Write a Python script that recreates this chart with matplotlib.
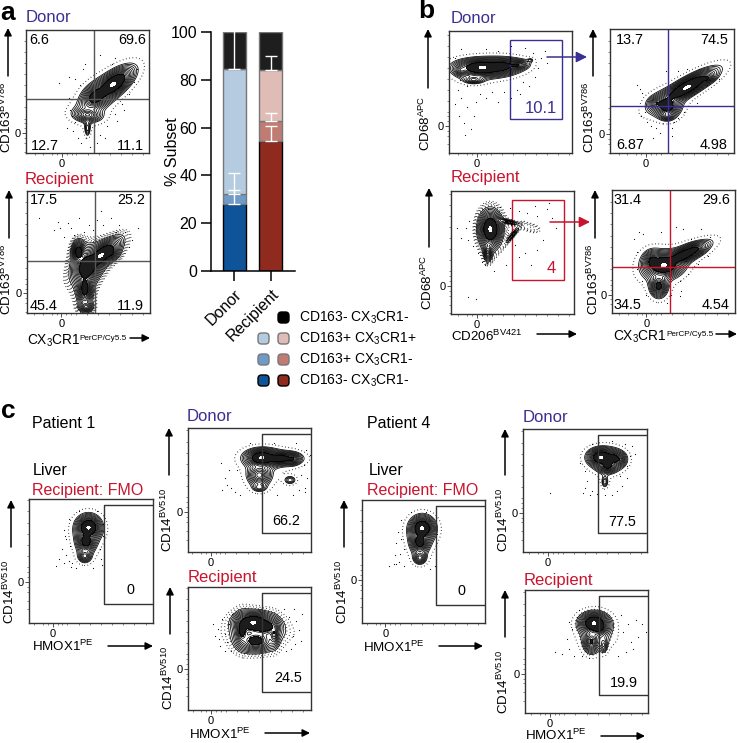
import numpy as np
import matplotlib
matplotlib.use("Agg")
import matplotlib.pyplot as plt
from matplotlib.patches import FancyBboxPatch, FancyArrowPatch, Rectangle

plt.rcParams['font.family'] = ['Liberation Sans', 'DejaVu Sans']
plt.rcParams['mathtext.default'] = 'regular'

BLUE = '#3a2f92'
RED = '#c8142d'
GREY = '#555555'

# stacked bars (bottom segment first)
groups = ['Donor', 'Recipient']
donor_pct = [27.9, 4.2, 52.4, 15.5]
recipient_pct = [54.4, 8.4, 21.4, 15.8]
donor_err = [5.9, 8.9, 17.0, 0]
recipient_err = [6.4, 3.2, 5.6, 2.0]
donor_colors = ['#0f5499', '#6f9bc8', '#b4cbe0', '#1e1e1e']
recipient_colors = ['#8f2a1e', '#c07b72', '#e0bcb7', '#1e1e1e']
legend_labels = ['CD163- CX$_3$CR1-', 'CD163+ CX$_3$CR1-', 'CD163+ CX$_3$CR1+', 'CD163- CX$_3$CR1-']

# density blobs per flow plot: x, y, sigma long, sigma short, angle, weight (percent of the plot frame)
a_donor_blobs = [(71, 56, 6, 2.6, 38, 1), (57, 46, 5.5, 3.6, 40, .3), (50, 31, 3, 6, 85, .1), (50, 20, 4.5, 1.6, 90, .035)]
a_recip_blobs = [(60, 47, 6, 2.2, 40, 1), (49, 38, 4.5, 3.2, 70, .8), (47, 20, 6, 2.6, 90, .25), (48, 5, 3, 2.2, 0, .08),
                 (42, 50, 3.5, 2, 90, .35), (66, 50, 3, 2.2, 0, .3)]
b_d1_blobs = [(27, 70, 6.5, 2.2, 0, 1), (42, 71, 5, 2.1, 4, .45), (55, 72, 4.5, 1.9, 5, .12), (10, 68, 3, 2.5, 0, .07),
              (20, 60, 5, 2, 0, .05), (66, 76, 2, 1.2, 10, .015)]
b_d2_blobs = [(62, 53, 8, 2.1, 30, 1), (46, 38, 4, 3.4, 0, .35), (38, 40, 3.5, 2.6, 0, .08), (78, 60, 3.2, 1.6, 20, .1),
              (46, 30, 3, 2, 0, .06)]
b_r1_blobs = [(32, 69, 4.5, 2.8, 90, 1), (30, 50, 4, 1.8, 90, .08), (46, 75, 6, 1, -12, .035), (50, 64, 5.5, 1, 50, .03),
              (65, 70, 9, 4, -15, .0095)]
b_r2_blobs = [(42, 39, 4.5, 3, 0, 1), (58, 47, 8, 2.2, 25, .5), (38, 22, 4.2, 3.2, 90, .2), (68, 52, 3, 1.8, 0, .08),
              (33, 42, 3, 3.5, 0, .2)]
c_p1_fmo_blobs = [(48, 77, 3, 3, 0, 1), (46, 66, 3.6, 3, 90, .3), (45, 54, 3, 3, 0, .07)]
c_p1_don_blobs = [(60, 76, 4, 2.1, 0, 1), (74, 75.5, 6, 1.9, 0, .4), (85, 75, 3, 2.2, 0, .1), (58, 62, 5, 4.4, 0, .12),
                  (83, 58, 3.5, 2.5, 0, .03), (58, 52, 4, 2.4, 0, .03)]
c_p1_rec_blobs = [(53, 71, 4.5, 2.6, 0, 1), (62, 68, 4.5, 2.6, 0, .4), (55, 56, 6.5, 4, 0, .22), (44, 65, 5, 2.2, 90, .22),
                  (70, 62, 5, 1.8, 90, .1), (60, 62, 20, 5, 0, .008)]
c_p4_fmo_blobs = [(49, 77, 3, 3, 0, 1), (47, 66, 3.6, 3, 90, .3), (47, 53, 3, 3, 0, .07)]
c_p4_don_blobs = [(63, 77, 3.2, 2.2, 0, 1), (72, 76, 3.6, 2.6, 0, .3), (78, 75, 2.5, 2.6, 0, .07), (66, 57, 3.5, 2, 90, .03),
                  (68, 70, 3.6, 2.6, 0, .18)]
c_p4_rec_blobs = [(56, 73, 3.5, 2.6, 0, 1), (60, 70, 3, 2.6, 0, .3), (54, 58, 4.6, 3.2, 90, .14), (64, 55, 4, 2, 90, .035),
                  (62, 60, 13, 7, 0, .0075)]

# stray events
a_donor_dots = [(40, 60), (35, 62), (46, 68), (48, 72), (55, 78), (60, 80), (72, 77), (88, 58), (90, 68), (84, 48), (78, 40),
                (72, 32), (66, 22), (60, 15), (40, 25), (38, 18), (42, 12), (45, 8), (27, 57), (52, 5), (58, 8), (64, 12),
                (36, 35), (70, 72), (44, 55), (35, 45), (37, 30), (33, 20), (74, 26), (80, 35)]
a_recip_dots = [(10, 78), (25, 75), (27, 70), (33, 74), (36, 70), (42, 78), (50, 72), (57, 76), (62, 72), (68, 78), (75, 72),
                (80, 66), (85, 60), (30, 62), (22, 68), (90, 70), (60, 84), (46, 66), (72, 66), (54, 68), (38, 64), (83, 54)]
b_d1_dots = [(5, 40), (8, 30), (12, 25), (10, 45), (15, 38), (20, 30), (7, 52), (25, 48), (30, 45), (35, 50), (40, 42), (50, 45),
             (55, 52), (60, 58), (65, 55), (70, 62), (72, 70), (75, 78), (62, 86), (50, 88), (40, 84), (30, 85), (68, 82),
             (78, 84), (80, 74), (5, 78), (10, 85), (18, 20), (15, 55), (22, 42), (45, 50), (58, 48), (13, 15), (9, 60)]
b_d2_dots = [(22, 55), (24, 52), (26, 48), (25, 30), (30, 25), (33, 22), (37, 20), (40, 16), (50, 20), (52, 25), (55, 28),
             (50, 14), (35, 12), (28, 33), (45, 66), (55, 66), (62, 68), (72, 68), (78, 55), (70, 40), (60, 33), (88, 60)]
b_r1_dots = [(15, 76), (12, 70), (14, 60), (18, 55), (22, 50), (25, 42), (28, 40), (5, 70), (8, 62), (30, 85), (40, 87), (48, 86),
             (55, 84), (62, 82), (70, 80), (78, 85), (82, 78), (85, 70), (60, 50), (55, 46), (70, 52), (75, 60), (14, 14),
             (20, 12), (65, 40), (45, 40), (52, 56), (80, 90), (68, 88), (35, 35)]
b_r2_dots = [(18, 60), (20, 50), (22, 66), (25, 64), (40, 66), (52, 70), (58, 68), (64, 60), (72, 68), (80, 62), (78, 46), (70, 40),
             (62, 32), (55, 26), (48, 15), (55, 14), (45, 8), (24, 26), (28, 15), (20, 36), (56, 18), (60, 42)]
c_p1_fmo_dots = [(28, 75), (29, 70), (27, 60), (30, 55), (32, 50), (28, 48), (34, 45), (22, 46), (30, 68), (38, 44), (52, 44),
                 (58, 52), (57, 60), (60, 70), (60, 80), (32, 84), (40, 90), (55, 90), (33, 62), (24, 52), (59, 47), (35, 48)]
c_p1_don_dots = [(27, 72), (28, 50), (30, 60), (33, 66), (35, 52), (38, 48), (42, 46), (85, 46), (90, 50), (95, 52), (97, 60),
                 (94, 70), (96, 82), (95, 48), (88, 88), (70, 88), (50, 88), (72, 46), (40, 66), (99, 78), (92, 62), (32, 54)]
c_p1_rec_dots = [(20, 70), (22, 60), (24, 66), (26, 52), (28, 74), (30, 62), (32, 55), (33, 70), (35, 48), (36, 78), (25, 58),
                 (82, 76), (85, 60), (88, 72), (90, 65), (84, 50), (87, 54), (80, 48), (92, 56), (93, 78), (78, 82), (86, 82), (30, 48)]
c_p4_fmo_dots = [(29, 74), (28, 65), (27, 55), (30, 50), (26, 48), (22, 46), (32, 68), (34, 46), (55, 44), (60, 52), (60, 62),
                 (61, 72), (60, 82), (32, 84), (40, 90), (52, 90), (34, 60), (28, 48), (31, 56), (59, 46)]
c_p4_don_dots = [(22, 48), (48, 48), (50, 52), (52, 58), (54, 46), (56, 50), (60, 47), (66, 46), (72, 46), (76, 50), (80, 54), (84, 60),
                 (84, 70), (86, 78), (88, 86), (82, 88), (72, 90), (56, 88), (46, 72), (50, 66), (78, 62), (90, 80)]
c_p4_rec_dots = [(24, 50), (30, 48), (34, 60), (36, 52), (38, 68), (40, 46), (42, 78), (44, 84), (78, 80), (80, 66), (84, 72), (86, 58),
                 (90, 76), (95, 72), (88, 52), (82, 50), (76, 46), (92, 62), (46, 46), (36, 74), (98, 66)]

# tick positions relative to the zero tick
tick_offsets = [-22, -15, -8, -4, 4, 8, 12, 21, 30, 39, 48, 57, 66, 75]

W, H = 737, 743
fig = plt.figure(figsize=(W / 100, H / 100), dpi=100)

xx, yy = np.meshgrid(np.linspace(0, 100, 320), np.linspace(0, 100, 320))


def density(blobs):
    z = np.zeros_like(xx)
    for x0, y0, s1, s2, ang, w in blobs:
        t = np.deg2rad(ang)
        u = (xx - x0) * np.cos(t) + (yy - y0) * np.sin(t)
        v = -(xx - x0) * np.sin(t) + (yy - y0) * np.cos(t)
        # heavy tails, so the outer rings open up the way flow contours do
        z += w * (1 + 0.5 * (u**2 / s1**2 + v**2 / s2**2)) ** -2
    return z / z.max()


def flow_panel(left, top, right, bottom, blobs, dots, x0, y0, halo=2):
    ax = fig.add_axes([left / W, 1 - bottom / H, (right - left) / W, (bottom - top) / H])
    z = density(blobs)
    floor = 0.012
    # dotted low levels stand in for the crowd of events round the outer contour
    if halo:
        ax.contour(xx, yy, z, levels=floor * np.geomspace(0.45, 0.88, halo), colors='k',
                   linewidths=0.8, linestyles=[(0, (0.6, 2.4))])
    ax.contourf(xx, yy, z, levels=[0.13, 0.85], colors=['#1c1c1c'])
    ax.contourf(xx, yy, z, levels=[0.85, 2], colors=['white'])
    ax.contour(xx, yy, z, levels=np.geomspace(floor, 0.13, 11), colors='k', linewidths=0.55)
    ax.scatter(*zip(*dots), s=0.7, c='k', linewidths=0)
    ax.set_xlim(0, 100)
    ax.set_ylim(0, 100)
    ax.set_xticks([x0], ['0'])
    ax.set_yticks([y0], ['0'])
    ax.set_xticks([x0 + d for d in tick_offsets if 0 < x0 + d < 100], minor=True)
    ax.set_yticks([y0 + d for d in tick_offsets if 0 < y0 + d < 100], minor=True)
    ax.tick_params(which='major', length=3, width=0.6, labelsize=8, pad=1, color='#333333')
    ax.tick_params(which='minor', length=1.5, width=0.5, color='#555555')
    for s in ax.spines.values():
        s.set_linewidth(1.0)
        s.set_color('#333333')
    return ax


def quadrant(ax, x, y, color):
    ax.axvline(x, color=color, lw=1.0)
    ax.axhline(y, color=color, lw=1.0)


def gate_box(ax, x1, x2, y1, y2, color):
    ax.add_patch(Rectangle((x1, y1), x2 - x1, y2 - y1, fill=False, ec=color, lw=1.0))


def open_gate(ax, x1, y1, y2):
    ax.plot([99, x1, x1, 99], [y2, y2, y1, y1], color='#333333', lw=1.0)


# panel a
ax = flow_panel(26, 30, 149, 153, a_donor_blobs, a_donor_dots, 29, 16, halo=1)
quadrant(ax, 55, 44, GREY)
ax = flow_panel(27, 191, 150, 313, a_recip_blobs, a_recip_dots, 28, 16, halo=5)
quadrant(ax, 55, 43, GREY)

# panel b
ax = flow_panel(449, 31, 572, 153, b_d1_blobs, b_d1_dots, 22.4, 22, halo=1)
gate_box(ax, 49.5, 92, 28, 92.7, BLUE)
ax = flow_panel(610, 29, 734, 153, b_d2_blobs, b_d2_dots, 29, 15.3, halo=1)
quadrant(ax, 47, 37.6, BLUE)
ax = flow_panel(451, 191, 574, 314, b_r1_blobs, b_r1_dots, 21, 22.7, halo=5)
gate_box(ax, 49.5, 92, 28, 93, RED)
ax = flow_panel(612, 190, 735, 313, b_r2_blobs, b_r2_dots, 28, 15, halo=1)
quadrant(ax, 46.8, 37.3, RED)

# panel c
ax = flow_panel(29, 499, 153, 623, c_p1_fmo_blobs, c_p1_fmo_dots, 19, 33, halo=1)
open_gate(ax, 60.5, 15, 95.4)
ax = flow_panel(188, 428, 311, 552, c_p1_don_blobs, c_p1_don_dots, 18.4, 32, halo=1)
open_gate(ax, 60.5, 15, 95)
ax = flow_panel(188, 587, 311, 710, c_p1_rec_blobs, c_p1_rec_dots, 18.7, 33.5, halo=3)
open_gate(ax, 60.3, 15, 95)
ax = flow_panel(362, 500, 485, 623, c_p4_fmo_blobs, c_p4_fmo_dots, 19, 35, halo=1)
open_gate(ax, 60.5, 14.6, 95)
ax = flow_panel(523, 429, 647, 552, c_p4_don_blobs, c_p4_don_dots, 20, 32, halo=1)
open_gate(ax, 60.5, 15.3, 95)
ax = flow_panel(525, 590, 648, 713, c_p4_rec_blobs, c_p4_rec_dots, 20, 32, halo=2)
open_gate(ax, 60.4, 14.8, 95)

# stacked bars
ax = fig.add_axes([211 / W, 1 - 271 / H, 84 / W, 239 / H])
for i, (vals, errs, cols) in enumerate(zip([donor_pct, recipient_pct], [donor_err, recipient_err],
                                           [donor_colors, recipient_colors])):
    bottom = 0
    for j, (v, e, c) in enumerate(zip(vals, errs, cols)):
        ax.bar(i, v, 0.63, bottom=bottom, color=c, edgecolor='k' if j == 0 else '#777777', linewidth=1.0)
        bottom += v
    bottom = 0
    for j, (v, e, c) in enumerate(zip(vals, errs, cols)):
        bottom += v
        if e > 0 and bottom < 99:
            ax.errorbar(i, bottom, yerr=[[0], [e]], color='white', capsize=4.5, lw=1.0, capthick=1.0, zorder=5)
ax.set_xlim(-0.644, 1.658)
ax.set_ylim(0, 100)
ax.set_xticks([0, 1])
ax.set_xticklabels(groups, rotation=45, ha='right', rotation_mode='anchor', fontsize=11.5)
ax.set_yticks(range(0, 101, 20))
ax.tick_params(axis='y', length=7, width=1.1, labelsize=11.5, pad=3)
ax.tick_params(axis='x', length=7, width=1.1, pad=4)
ax.set_ylabel('% Subset', fontsize=11.5, labelpad=-6.5)
for s in ['top', 'right']:
    ax.spines[s].set_visible(False)
for s in ['left', 'bottom']:
    ax.spines[s].set_linewidth(1.1)

# everything else sits on an overlay in pixel coordinates
ov = fig.add_axes([0, 0, 1, 1], zorder=10)
ov.set_xlim(0, W)
ov.set_ylim(H, 0)
ov.axis('off')


def put(x, y, s, size=12, color='k', ha='left', weight='normal'):
    ov.text(x, y, s, fontsize=size, color=color, ha=ha, va='baseline', weight=weight)


def put_v(x, y, s, size=9.6):
    ov.text(x, y, s, fontsize=size, rotation=90, rotation_mode='anchor', ha='left', va='baseline')


def arrow(x1, y1, x2, y2, color='k', head=11, lw=1.1):
    ov.add_patch(FancyArrowPatch((x1, y1), (x2, y2), arrowstyle='-|>', mutation_scale=head, color=color,
                                 lw=lw, shrinkA=0, shrinkB=0))


for x, y, s in [(0, 20, 'a'), (418, 18, 'b'), (1, 418, 'c')]:
    put(x, y, s, size=19, weight='bold')

for x, y in [(26, 22), (451, 23), (187, 421), (523, 422)]:
    put(x, y, 'Donor', color=BLUE)
for x, y in [(25, 184), (451, 182), (188, 582), (524, 585)]:
    put(x, y, 'Recipient', color=RED)
for x, y in [(32, 495), (367, 495)]:
    put(x, y, 'Recipient: FMO', color=RED, size=11.5)
put(32, 428, 'Patient 1', size=11.5)
put(367, 428, 'Patient 4', size=11.5)
put(33, 475, 'Liver', size=11.5)
put(369, 475, 'Liver', size=11.5)

# quadrant numbers
for x, y, s, ha in [(29, 44, '6.6', 'left'), (146, 44, '69.6', 'right'), (31, 150, '12.7', 'left'), (144, 150, '11.1', 'right'),
                    (30, 204, '17.5', 'left'), (145, 204, '25.2', 'right'), (30, 310, '45.4', 'left'), (144, 310, '11.9', 'right'),
                    (616, 44, '13.7', 'left'), (728, 44, '74.5', 'right'), (616, 149, '6.87', 'left'), (728, 149, '4.98', 'right'),
                    (614, 204, '31.4', 'left'), (730, 204, '29.6', 'right'), (614, 309, '34.5', 'left'), (730, 309, '4.54', 'right'),
                    (130, 594, '0', 'center'), (286, 525, '66.2', 'center'), (288, 682, '24.5', 'center'),
                    (461, 595, '0', 'center'), (622, 526, '77.5', 'center'), (624, 687, '19.9', 'center')]:
    put(x, y, s, size=10.4, ha=ha)
put(557, 113, '10.1', size=12, color=BLUE, ha='right')
put(551, 273, '4', size=12, color=RED, ha='center')

# axis labels
CD163 = 'CD163$^{BV786}$'
CD68 = 'CD68$^{APC}$'
CD14 = 'CD14$^{BV510}$'
HMOX = 'HMOX1$^{PE}$'
for x, y in [(11, 153), (11, 315), (594, 153), (598, 315)]:
    put_v(x, y, CD163)
for x, y in [(430, 151), (432, 310)]:
    put_v(x, y, CD68)
for x, y in [(14, 624), (172, 552), (173, 710), (347, 624), (508, 552), (508, 714)]:
    put_v(x, y, CD14)
for x, y in [(32, 651), (189, 739), (363, 652), (525, 740)]:
    put(x, y, HMOX, size=9.6)
put(451, 341, 'CD206$^{BV421}$', size=9.6)
put(27, 345, 'CX$_3$CR1', size=9.9)
put(79, 340, 'PerCP/Cy5.5', size=5.9)
put(613, 341, 'CX$_3$CR1', size=9.9)
put(666, 336, 'PerCP/Cy5.5', size=5.9)

# axis arrows
for x1, y1, x2, y2 in [(8, 76, 8, 28), (9, 238, 9, 190), (130, 338, 150, 338), (428, 88, 428, 29), (593, 76, 593, 29),
                       (429, 247, 429, 188), (595, 238, 595, 190), (537, 334, 577, 334), (716, 334, 737, 334),
                       (11, 547, 11, 500), (108, 646, 153, 646), (169, 475, 169, 428), (170, 634, 170, 587),
                       (265, 733, 310, 733), (344, 547, 344, 500), (439, 646, 483, 646), (505, 475, 505, 429),
                       (505, 637, 505, 590), (601, 736, 645, 736)]:
    arrow(x1, y1, x2, y2)
arrow(547, 57, 587, 57, color=BLUE, head=16)
arrow(550, 222, 590, 222, color=RED, head=16)

# legend swatches, top row first
rows = [317, 338, 359, 380]
for k, y in enumerate(rows):
    j = 3 - k
    if k > 0:
        ov.add_patch(FancyBboxPatch((258, y - 5), 11, 11, boxstyle='round,pad=0,rounding_size=3.5', fc=donor_colors[j],
                                    ec='k' if j == 0 else '#777777', lw=1.0))
    ov.add_patch(FancyBboxPatch((278, y - 5), 11, 11, boxstyle='round,pad=0,rounding_size=3.5',
                                fc='k' if k == 0 else recipient_colors[j],
                                ec='k' if j in (0, 3) else '#777777', lw=1.0))
    put(299, y + 5, legend_labels[j], size=10)

fig.savefig('out.png', dpi=100)
